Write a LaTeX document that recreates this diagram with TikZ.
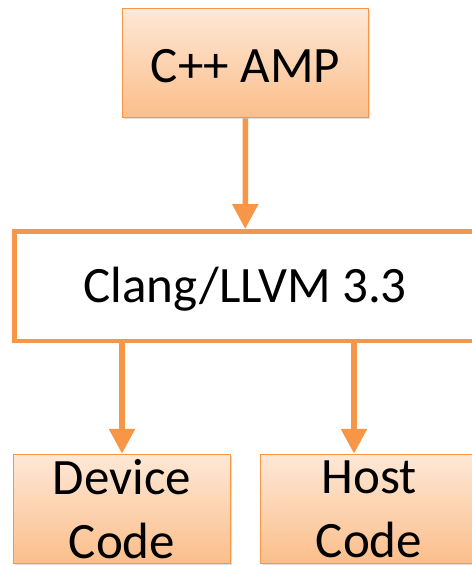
\documentclass[tikz,border=0pt]{standalone}
\usepackage{fontspec}
\setmainfont{Carlito}
\usetikzlibrary{arrows.meta,shadows}
\definecolor{amporange}{HTML}{F79646}
\definecolor{peachtop}{HTML}{FEE8D6}
\definecolor{peachbot}{HTML}{FBBE8B}
\tikzset{
  gradbox/.style={draw=amporange, line width=1.5pt, top color=peachtop, bottom color=peachbot,
    inner sep=0pt, align=center,
    drop shadow={shadow xshift=1pt, shadow yshift=-1.5pt, opacity=.25}},
  plainbox/.style={draw=amporange, line width=4.5pt, fill=white, inner sep=0pt},
  bigtext/.style={font=\fontsize{51}{64}\selectfont},
  arr/.style={draw=amporange, line width=5.5pt, -{Triangle[width=25pt,length=25pt]}}
}
\begin{document}
\begin{tikzpicture}[x=1pt,y=-1pt]
\useasboundingbox (0,0) rectangle (472,566);
\clip (0,0) rectangle (472,566);
\node[gradbox, bigtext, minimum width=246pt, minimum height=109pt, text height=39pt, text depth=0pt] (amp) at (245.5,63) {C++ AMP};
\node[plainbox, bigtext, minimum width=461.5pt, minimum height=109.5pt, text height=33pt, text depth=0pt] (clang) at (245.2,286) {Clang/LLVM 3.3};
\node[gradbox, bigtext, minimum width=217pt, minimum height=109pt] (dev) at (122,509) {Device\\Code};
\node[gradbox, bigtext, minimum width=217pt, minimum height=109pt] (host) at (369,509) {Host\\Code};
\coordinate (hx) at (354,0);
\draw[arr] (amp.south) -- (clang.north);
\draw[arr] (clang.south -| dev.north) -- (dev.north);
\draw[arr] (clang.south -| hx) -- (host.north -| hx);
\end{tikzpicture}
\end{document}
